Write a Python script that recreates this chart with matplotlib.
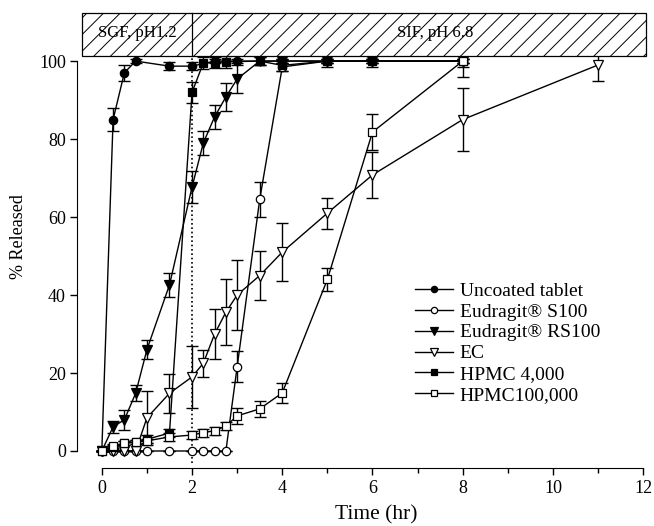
import matplotlib
matplotlib.use("Agg")
import matplotlib.pyplot as plt
from matplotlib.patches import Rectangle

plt.rcParams['font.family'] = ['Liberation Serif', 'DejaVu Serif']
plt.rcParams['hatch.linewidth'] = 0.7

# release data (time in hr, % released, +/- error)
t_uncoated = [0, 0.25, 0.5, 0.75, 1.5, 2, 2.5, 3, 4, 5, 6, 8]
y_uncoated = [0, 85, 97, 100, 98.7, 98.7, 100, 100, 100, 100, 100, 100]
e_uncoated = [0, 3, 2, 0.5, 1, 1, 0.5, 0.5, 0.5, 0.5, 0.5, 0.5]

t_s100 = [0, 0.25, 0.5, 0.75, 1, 1.5, 2, 2.25, 2.5, 2.75, 3, 3.5, 4, 5, 6, 8]
y_s100 = [0, 0, 0, 0, 0, 0, 0, 0, 0, 0, 21.6, 64.5, 98.5, 100, 100, 100]
e_s100 = [0, 0, 0, 0, 0, 0, 0, 0, 0, 0, 4, 4.5, 1, 0.5, 0.5, 0.5]

t_rs100 = [0, 0.25, 0.5, 0.75, 1, 1.5, 2, 2.25, 2.5, 2.75, 3, 3.5, 4, 5, 6, 8]
y_rs100 = [0, 6.2, 8, 14.8, 26, 42.6, 67.7, 79, 85.7, 90.8, 95.4, 100, 100, 100, 100, 100]
e_rs100 = [0, 1.5, 2.5, 2, 2.5, 3, 4, 3, 3, 3.5, 3.5, 1, 0.5, 0.5, 0.5, 0.5]

t_ec = [0, 0.25, 0.5, 0.75, 1, 1.5, 2, 2.25, 2.5, 2.75, 3, 3.5, 4, 5, 6, 8, 11]
y_ec = [0, 0, 0, 0, 8.5, 14.8, 19, 22.5, 30, 35.6, 40, 45, 51, 61, 70.8, 85, 99]
e_ec = [0, 0, 0, 0, 7, 5, 8, 3.5, 6.5, 8.5, 9, 6.3, 7.5, 4, 6, 8, 4]

t_hpmc4k = [0, 0.25, 0.5, 0.75, 1, 1.5, 2, 2.25, 2.5, 2.75, 3.5, 4, 5, 6, 8]
y_hpmc4k = [0, 1, 2, 2.3, 3, 4.6, 92, 99.5, 99.6, 99.8, 100, 98.9, 100, 100, 100]
e_hpmc4k = [0, 0.5, 0.5, 0.5, 1, 1, 2.7, 1.5, 1.5, 1.5, 1, 1.5, 1.5, 1.5, 1.5]

t_hpmc100k = [0, 0.25, 0.5, 0.75, 1, 1.5, 2, 2.25, 2.5, 2.75, 3, 3.5, 4, 5, 6, 8]
y_hpmc100k = [0, 1.3, 2, 2.3, 2.6, 3.6, 4.1, 4.7, 5.2, 6.4, 9, 10.8, 14.9, 44, 81.8, 100]
e_hpmc100k = [0, 0.5, 0.5, 0.5, 0.5, 1, 1, 1, 1, 1, 2, 2, 2.5, 3, 4.7, 4]

labels = ['Uncoated tablet', 'Eudragit\u00ae S100', 'Eudragit\u00ae RS100',
          'EC', 'HPMC 4,000', 'HPMC100,000']

fig = plt.figure(figsize=(6.54, 5.26), dpi=100)
ax = fig.add_axes([77 / 654, 57.7 / 526, 577 / 654, 458.3 / 526])

series = [
    (t_uncoated, y_uncoated, e_uncoated, 'o', 'black', 6),
    (t_s100, y_s100, e_s100, 'o', 'white', 6),
    (t_rs100, y_rs100, e_rs100, 'v', 'black', 7),
    (t_ec, y_ec, e_ec, 'v', 'white', 7),
    (t_hpmc4k, y_hpmc4k, e_hpmc4k, 's', 'black', 5.5),
    (t_hpmc100k, y_hpmc100k, e_hpmc100k, 's', 'white', 5.5),
]

handles = []
for (t, y, e, m, fc, ms), lab in zip(series, labels):
    ax.errorbar(t, y, yerr=e, fmt='none', ecolor='black', elinewidth=1.0,
                capsize=4.5, capthick=1.0, zorder=2)
    line, = ax.plot(t, y, color='black', lw=1.0, marker=m, markersize=ms,
                    markerfacecolor=fc, markeredgecolor='black',
                    markeredgewidth=0.9, label=lab, zorder=3)
    handles.append(line)

# dotted line at the medium change
ax.plot([2, 2], [-3, 101], color='black', lw=1.2, linestyle=(0, (1, 1.6)), zorder=1)

# hatched band for the two media
band = Rectangle((-0.44, 101.4), 12.5, 10.9, facecolor='white', edgecolor='black',
                 hatch='//', lw=0.9, zorder=4, clip_on=False)
ax.add_patch(band)
ax.plot([2, 2], [101.4, 112.3], color='black', lw=0.9, zorder=5, clip_on=False)
ax.text(0.78, 107.2, 'SGF, pH1.2', ha='center', va='center', fontsize=12, zorder=6)
ax.text(7.38, 107.2, 'SIF, pH 6.8', ha='center', va='center', fontsize=12, zorder=6)

ax.set_xlim(-0.55, 12.24)
ax.set_ylim(-4.44, 113.1)
ax.spines['top'].set_visible(False)
ax.spines['right'].set_visible(False)
ax.spines['left'].set_bounds(0, 100)
ax.spines['bottom'].set_bounds(0, 12)
ax.set_xticks([0, 2, 4, 6, 8, 10, 12])
ax.set_xticks([1, 3, 5, 7, 9, 11], minor=True)
ax.set_yticks([0, 20, 40, 60, 80, 100])
ax.tick_params(axis='both', which='major', length=5, width=1, labelsize=13)
ax.tick_params(axis='x', which='minor', length=3.5, width=1)
ax.tick_params(axis='x', pad=3.5)
ax.tick_params(axis='y', pad=3)

ax.set_xlabel('Time (hr)', fontsize=15.5, va='center')
ax.xaxis.set_label_coords(0.518, -0.102)
ax.set_ylabel('% Released', fontsize=13, va='center')
ax.yaxis.set_label_coords(-0.102, 0.505)

ax.legend(handles=handles, loc='upper left', bbox_to_anchor=(415 / 654, 1 - 282 / 526),
          bbox_transform=fig.transFigure, frameon=False, fontsize=14,
          handlelength=1.95, handletextpad=0.35, labelspacing=0.17,
          borderpad=0, borderaxespad=0, markerscale=0.75)

fig.savefig('out.png', dpi=100)
